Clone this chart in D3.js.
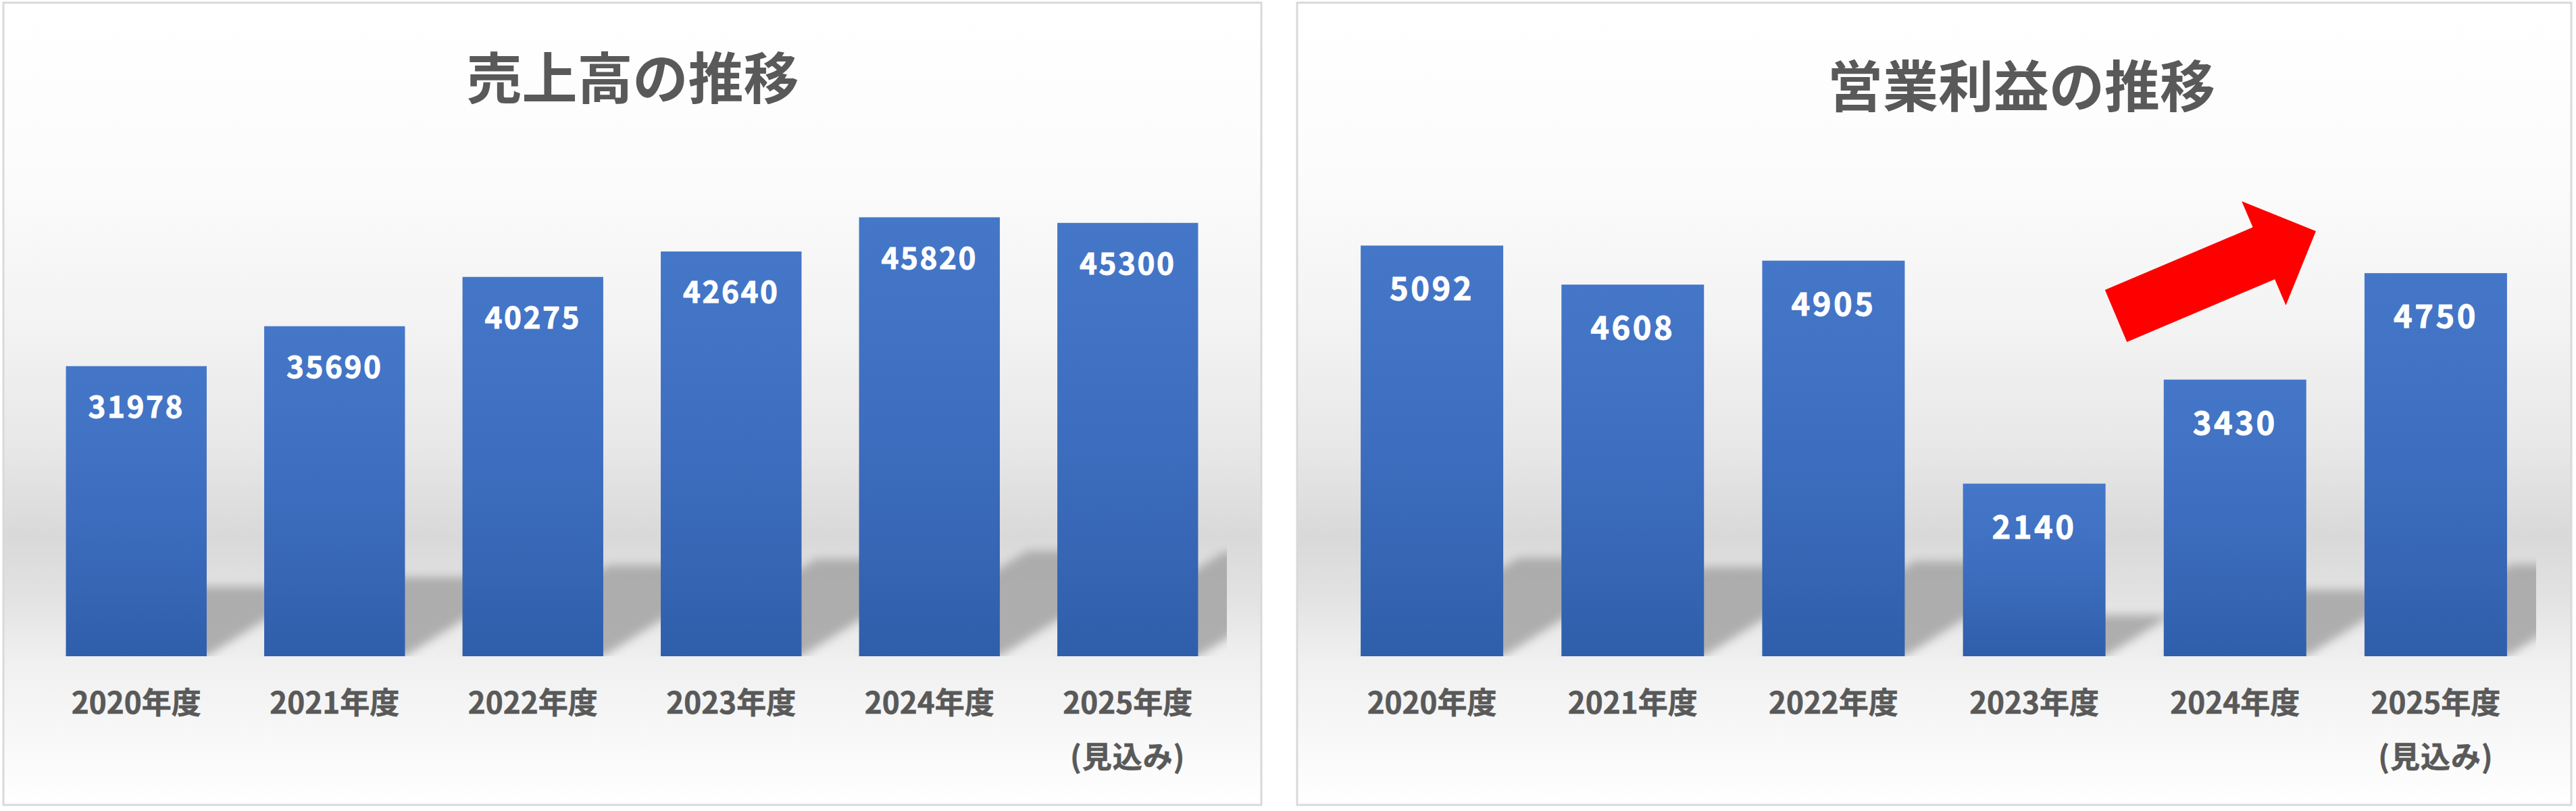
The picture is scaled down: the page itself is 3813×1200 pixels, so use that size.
<!DOCTYPE html>
<html>
<head>
<meta charset="utf-8">
<script src="https://cdn.jsdelivr.net/npm/d3@7"></script>
<style>
  html, body { margin: 0; padding: 0; background: #ffffff; }
  svg { display: block; }
  text { font-family: "Noto Sans CJK JP", "Noto Sans", sans-serif; font-weight: 700; }
</style>
</head>
<body>
<svg id="chart" width="3813" height="1200"></svg>
<script>
// ---- data ----
const categories = ["2020年度", "2021年度", "2022年度", "2023年度", "2024年度", "2025年度"];
const forecastNote = "(見込み)";
const salesTitle = "売上高の推移";
const salesValues = [31978, 35690, 40275, 42640, 45820, 45300];
const salesDomain = [5000, 50000];
const profitTitle = "営業利益の推移";
const profitValues = [5092, 4608, 4905, 2140, 3430, 4750];
const profitDomain = [0, 6000];

// ---- layout ----
const svg = d3.select("#chart");
const defs = svg.append("defs");

const panels = [
  { id: "sales", title: salesTitle, values: salesValues, domain: salesDomain,
    box: [5, 4, 1867, 1191], plotX: [55, 1816], titleX: 936.5, titleY: 110,
    labelSize: 44, labelSpacing: 2.5, labelOffset: 76 },
  { id: "profit", title: profitTitle, values: profitValues, domain: profitDomain,
    box: [1920, 4, 3806, 1191], plotX: [1971, 3754], titleX: 2992, titleY: 122,
    labelSize: 47, labelSpacing: 3.5, labelOffset: 81, arrow: true }
];
const plotY = [971, 255];

// background gradient
const bg = defs.append("linearGradient").attr("id", "bgGrad")
  .attr("x1", 0).attr("y1", 0).attr("x2", 0).attr("y2", 1);
[[0, "#ffffff"], [0.2, "#fcfcfc"], [0.4, "#f3f3f3"], [0.55, "#e8e8e8"],
 [0.665, "#d9d9d9"], [0.74, "#e2e2e2"], [0.82, "#f0f0f0"], [1, "#ffffff"]]
  .forEach(([o, c]) => bg.append("stop").attr("offset", o).attr("stop-color", c));

// bar gradient
const bg2 = defs.append("linearGradient").attr("id", "barGrad")
  .attr("x1", 0).attr("y1", 0).attr("x2", 0).attr("y2", 1);
[[0, "#4577c9"], [0.5, "#3d6dbe"], [1, "#2f5fab"]]
  .forEach(([o, c]) => bg2.append("stop").attr("offset", o).attr("stop-color", c));

// shadow blur
defs.append("filter").attr("id", "shadowBlur")
  .attr("x", "-20%").attr("y", "-20%").attr("width", "140%").attr("height", "140%")
  .append("feGaussianBlur").attr("stdDeviation", 7);

panels.forEach(p => {
  const g = svg.append("g").attr("class", "panel-" + p.id);
  const [bx0, by0, bx1, by1] = p.box;

  g.append("rect")
    .attr("x", bx0).attr("y", by0).attr("width", bx1 - bx0).attr("height", by1 - by0)
    .attr("fill", "url(#bgGrad)")
    .attr("stroke", "#d9d9d9").attr("stroke-width", 3);

  const x = d3.scaleBand().domain(categories).range(p.plotX)
    .paddingInner(0.29).paddingOuter(0.145);
  const y = d3.scaleLinear().domain(p.domain).range(plotY);

  // clip for shadows
  const clipId = "clip-" + p.id;
  defs.append("clipPath").attr("id", clipId).append("rect")
    .attr("x", p.plotX[0]).attr("y", plotY[1] - 50)
    .attr("width", p.plotX[1] - p.plotX[0]).attr("height", plotY[0] - plotY[1] + 50);

  const data = categories.map((c, i) => ({ cat: c, v: p.values[i] }));

  // perspective shadows
  g.append("g").attr("clip-path", `url(#${clipId})`)
    .selectAll("path").data(data).join("path")
    .attr("d", d => {
      const x0 = x(d.cat), x1 = x0 + x.bandwidth();
      const base = y(p.domain[0]);
      const h = base - y(d.v);
      const sh = h * 0.24, s = sh * 1.6;
      return `M${x0},${base}L${x1},${base}L${x1 + s},${base - sh}L${x0 + s},${base - sh}Z`;
    })
    .attr("fill", "#a6a6a6")
    .attr("opacity", 0.88)
    .attr("filter", "url(#shadowBlur)");

  // bars
  g.append("g").selectAll("rect").data(data).join("rect")
    .attr("x", d => x(d.cat))
    .attr("y", d => y(d.v))
    .attr("width", x.bandwidth())
    .attr("height", d => y(p.domain[0]) - y(d.v))
    .attr("fill", "url(#barGrad)");

  // value labels
  g.append("g").selectAll("text").data(data).join("text")
    .attr("x", d => x(d.cat) + x.bandwidth() / 2)
    .attr("y", d => y(d.v) + p.labelOffset)
    .attr("text-anchor", "middle")
    .attr("font-size", p.labelSize)
    .attr("letter-spacing", p.labelSpacing)
    .attr("fill", "#ffffff")
    .attr("stroke", "#ffffff").attr("stroke-width", 0.9)
    .text(d => d.v);

  // category labels
  g.append("g").selectAll("text").data(data).join("text")
    .attr("x", d => x(d.cat) + x.bandwidth() / 2)
    .attr("y", 1056)
    .attr("text-anchor", "middle")
    .attr("font-size", 44)
    .attr("fill", "#595959")
    .attr("stroke", "#595959").attr("stroke-width", 0.6)
    .text(d => d.cat);
  g.append("text")
    .attr("x", x(categories[categories.length - 1]) + x.bandwidth() / 2)
    .attr("y", 1136)
    .attr("text-anchor", "middle")
    .attr("font-size", 44)
    .attr("letter-spacing", 1)
    .attr("fill", "#595959")
    .attr("stroke", "#595959").attr("stroke-width", 0.6)
    .text(forecastNote);

  // title
  g.append("text")
    .attr("x", p.titleX).attr("y", p.titleY)
    .attr("text-anchor", "middle")
    .attr("dominant-baseline", "central")
    .attr("font-size", 82)
    .attr("fill", "#595959")
    .text(p.title);

  // upward arrow annotation
  if (p.arrow) {
    const L = 237.7, T = 321.5, hw = 41.7, hh = 83.75;
    const pts = [[0, -hw], [L, -hw], [L, -hh], [T, 0], [L, hh], [L, hw], [0, hw]];
    g.append("polygon")
      .attr("transform", "translate(3132,467.5) rotate(-22.97)")
      .attr("points", pts.map(q => q.join(",")).join(" "))
      .attr("fill", "#ff0000");
  }
});
</script>
</body>
</html>
